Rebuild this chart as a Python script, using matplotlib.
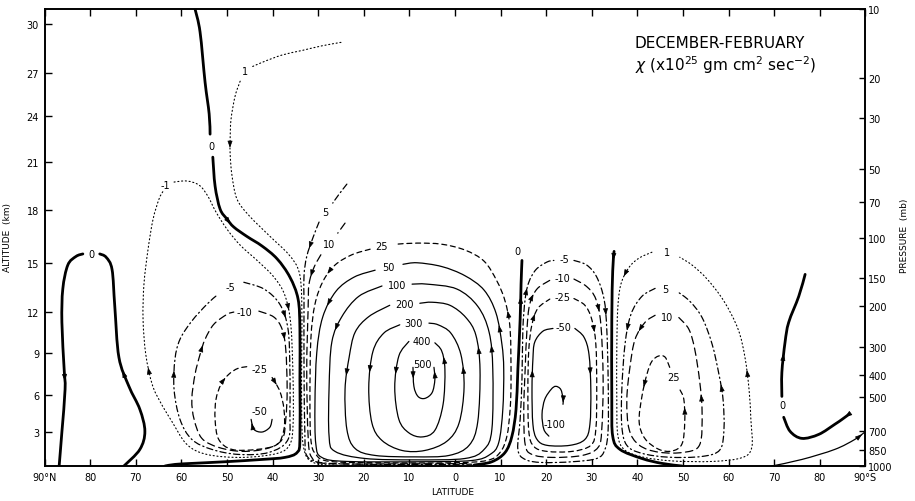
import numpy as np
import matplotlib
matplotlib.use("Agg")
import matplotlib.pyplot as plt
from matplotlib.path import Path
from matplotlib.patches import PathPatch
from matplotlib.ticker import NullLocator

# --- Streamlines: (latitude deg, pressure mb) ---
# latitude is positive north; every path runs in the direction of its arrows

# north polar cell, label "0" splits it in two
ZERO_NPOLE_UP = [(72.6, 1000), (69.1, 846), (68.0, 705), (69.1, 565), (71.5, 448), (73.7, 334),
                 (74.6, 200), (75.2, 138), (76.5, 122), (77.9, 118)]
ZERO_NPOLE_DOWN = [(81.6, 118), (83.1, 121), (84.9, 132), (86.0, 168), (86.2, 235), (85.7, 378),
                   (85.5, 462), (86.2, 710), (86.8, 1000)]

# zero line between Ferrel and Hadley cells (north)
ZERO_NH_TOP = [(57.0, 10), (55.9, 12.6), (54.8, 20.9), (53.9, 28.8), (53.7, 35.3)]
ZERO_NH = [(53.1, 44.5), (52.6, 59.6), (51.5, 75.1), (50.0, 83), (48.5, 90), (45.6, 99), (42.3, 109),
           (39.0, 124), (36.2, 149), (34.4, 186), (34.0, 252), (34.0, 418), (34.0, 765), (34.6, 872),
           (37.3, 917), (42.3, 936), (50.4, 958), (57.7, 974), (61.4, 984), (63.6, 1000)]

# northern Ferrel cell (negative)
NEG1_NH = [(61.6, 57.2), (58.8, 56.6), (56.1, 59.0), (54.2, 65.9), (52.4, 77.4), (50.0, 91.9), (47.1, 108),
           (43.2, 127), (39.7, 149), (37.3, 179), (36.0, 240), (35.5, 418), (35.5, 657), (36.2, 804),
           (39.0, 881), (46.7, 917), (54.4, 890), (58.8, 804), (62.1, 637), (64.7, 521), (66.4, 439),
           (67.8, 325), (68.4, 228), (68.2, 160), (67.3, 112.5), (66.2, 83.1), (64.9, 67.9), (64.0, 62.7)]
NEG5_NH = [(46.3, 157), (41.9, 168), (38.4, 196), (36.6, 252), (36.2, 378), (36.2, 565), (36.6, 765),
           (40.8, 872), (47.4, 890), (53.3, 846), (57.7, 765), (60.3, 625), (61.6, 462), (61.4, 341),
           (60.3, 279), (57.7, 232), (54.4, 196), (52.2, 179)]
NEG10_NH = [(43.0, 210), (39.7, 223), (37.9, 252), (37.1, 309), (36.8, 462), (37.1, 625), (37.9, 765),
            (41.2, 838), (46.7, 863), (51.8, 829), (55.5, 757), (57.2, 625), (57.7, 511), (57.0, 397),
            (55.9, 325), (54.8, 279), (52.9, 240), (50.0, 217), (48.5, 212)]
NEG25_NH = [(40.1, 410), (38.4, 471), (37.5, 565), (37.5, 691), (39.0, 804), (43.4, 846), (48.9, 846),
            (51.8, 765), (52.6, 625), (52.4, 511), (51.3, 439), (49.6, 397), (47.6, 374), (45.4, 367)]
NEG50_NH = [(40.1, 625), (40.6, 677), (42.3, 710), (44.1, 691), (44.7, 625)]

# Hadley cell (positive)
POS1_NH_TOP = [(25.0, 14.0), (29.2, 14.5), (33.6, 15.2), (37.9, 15.9), (41.9, 17.0), (44.5, 17.9)]
POS1_NH = [(47.1, 20.7), (48.2, 24.0), (49.1, 30.3), (49.3, 37.1), (49.3, 43.1), (48.9, 53.5), (47.8, 67.9),
           (45.2, 80), (40.6, 98.7), (36.4, 119), (34.2, 141), (33.6, 186), (33.6, 309), (33.6, 625),
           (33.1, 846), (31.4, 958), (27.0, 990), (16.0, 992), (5.0, 992)]
POS5_NH_TOP = [(23.7, 58.4), (25.4, 64.6), (26.8, 70.7)]
POS5_NH = [(29.8, 85.6), (31.1, 99.7), (32.5, 121), (33.1, 147), (33.1, 192), (33.1, 378), (32.9, 740),
           (32.5, 899), (29.6, 965), (20.4, 982), (7.2, 985), (-3.7, 982)]
POS10_NH_TOP = [(24.1, 86.5), (25.7, 95.7)]
POS10_NH = [(29.4, 119), (30.9, 135), (32.0, 160), (32.2, 206), (32.5, 378), (32.2, 740), (31.4, 917),
            (28.1, 975), (11.6, 978), (-2.6, 976)]
HAD25 = [(18.6, 112.5), (22.6, 119), (26.3, 132), (28.9, 155), (30.7, 196), (31.6, 279), (31.8, 511),
         (31.6, 765), (30.5, 890), (27.4, 955), (16.0, 968), (0.7, 968), (-7.0, 946), (-9.9, 872),
         (-11.4, 740), (-12.1, 565), (-12.3, 418), (-12.1, 252), (-11.0, 190), (-9.2, 155), (-6.4, 127),
         (-2.2, 113.5), (2.9, 107), (8.3, 105.8), (12.9, 107)]
HAD50 = [(17.5, 139), (22.1, 149), (26.1, 172), (29.0, 223), (30.3, 319), (30.7, 537), (30.5, 804),
         (29.2, 917), (23.7, 955), (7.2, 958), (-3.7, 946), (-7.7, 890), (-9.6, 790), (-10.5, 565),
         (-10.7, 378), (-10.3, 293), (-9.0, 214), (-6.4, 170), (-2.2, 147), (2.9, 134), (8.3, 129), (11.4, 131)]
HAD100 = [(16.0, 163), (21.1, 181), (24.8, 222), (27.0, 287), (27.6, 453), (27.6, 740), (26.3, 863),
          (19.7, 927), (8.8, 940), (-2.2, 927), (-6.4, 846), (-8.1, 691), (-8.3, 378), (-7.5, 260),
          (-5.0, 200), (-0.4, 168), (6.1, 160), (9.4, 160)]
HAD200 = [(14.3, 198), (18.9, 222), (21.9, 260), (23.2, 334), (24.1, 462), (23.7, 691), (21.9, 838),
          (17.5, 899), (8.8, 912), (1.3, 899), (-3.1, 812), (-5.0, 641), (-5.5, 378), (-4.6, 268),
          (-2.4, 224), (1.1, 198), (5.0, 192), (7.7, 194)]
HAD300 = [(12.1, 241), (15.6, 262), (18.0, 316), (18.9, 453), (18.2, 649), (16.0, 773), (11.6, 855),
          (6.6, 855), (1.8, 780), (-0.9, 649), (-2.0, 453), (-1.3, 325), (0.9, 262), (3.7, 241), (5.7, 237)]
HAD400 = [(10.1, 285), (12.3, 330), (13.2, 453), (12.3, 625), (10.1, 716), (7.2, 746), (4.4, 698),
          (2.6, 537), (2.2, 378), (2.9, 314), (4.4, 289)]
HAD500 = [(9.2, 370), (9.0, 448), (8.1, 496), (6.6, 506), (5.0, 477), (4.4, 418), (4.6, 370)]

# zero line near the equator
ZERO_EQ = [(-4.2, 990), (-8.1, 958), (-11.0, 872), (-12.5, 740), (-13.4, 565), (-13.8, 378),
           (-14.3, 228), (-14.5, 160), (-14.7, 126)]

# southern cell next to the equator (negative)
NEG5_SH = [(-26.1, 126), (-28.9, 132), (-31.1, 149), (-32.7, 186), (-33.3, 252), (-33.6, 418),
           (-33.6, 691), (-32.9, 846), (-31.1, 927), (-25.7, 958), (-19.1, 965), (-15.4, 936),
           (-13.8, 846), (-14.3, 625), (-14.7, 418), (-14.9, 252), (-15.4, 186), (-16.2, 157),
           (-17.8, 138), (-20.2, 128), (-21.7, 126)]
NEG10_SH = [(-26.1, 152), (-28.9, 164), (-30.9, 186), (-32.0, 240), (-32.5, 418), (-32.2, 691),
            (-31.4, 829), (-27.9, 899), (-21.3, 917), (-16.9, 890), (-15.4, 804), (-15.1, 565),
            (-15.4, 378), (-15.8, 252), (-16.4, 196), (-18.0, 168), (-20.8, 154)]
NEG25_SH = [(-26.1, 185), (-28.5, 198), (-30.0, 228), (-30.9, 293), (-31.1, 462), (-30.9, 691),
            (-29.8, 812), (-25.7, 863), (-20.2, 863), (-17.3, 821), (-16.2, 705), (-16.0, 462),
            (-16.2, 309), (-16.9, 240), (-18.2, 204), (-20.8, 186)]
NEG50_SH = [(-26.3, 250), (-28.3, 273), (-29.4, 325), (-29.8, 462), (-29.6, 657), (-28.5, 765),
            (-25.2, 812), (-20.2, 812), (-18.0, 765), (-17.1, 657), (-16.9, 462), (-17.1, 341),
            (-17.5, 287), (-19.3, 257), (-21.5, 250)]
NEG100_SH = [(-20.6, 740), (-19.5, 691), (-19.1, 594), (-19.7, 511), (-21.1, 462), (-22.1, 448),
             (-23.2, 462), (-23.7, 506), (-23.7, 537)]

ZERO_SH = [(-34.9, 115), (-34.6, 140), (-34.4, 228), (-34.4, 511), (-34.6, 740), (-36.2, 846),
           (-41.0, 927), (-45.4, 974), (-49.8, 1000)]

# southern Ferrel cell (positive)
POS1_SH = [(-43.2, 116), (-40.4, 123), (-38.2, 135), (-36.4, 160), (-35.7, 206), (-35.5, 309),
           (-35.5, 511), (-35.7, 727), (-37.1, 846), (-41.0, 912), (-47.6, 950), (-56.4, 955),
           (-62.9, 920), (-65.1, 829), (-64.9, 625), (-64.5, 462), (-63.6, 334), (-62.1, 252),
           (-59.0, 190), (-55.3, 152), (-52.0, 132), (-49.3, 122)]
POS5_SH = [(-43.9, 167), (-41.0, 181), (-38.6, 217), (-37.3, 293), (-36.6, 462), (-36.6, 670),
           (-37.7, 812), (-41.0, 880), (-46.9, 915), (-54.2, 908), (-58.1, 850), (-59.0, 691),
           (-58.8, 511), (-57.9, 397), (-56.4, 293), (-54.2, 224), (-51.5, 190), (-48.7, 172)]
POS10_SH = [(-43.9, 219), (-41.7, 235), (-39.5, 279), (-38.4, 367), (-37.7, 511), (-38.2, 691),
            (-40.4, 810), (-44.7, 870), (-50.4, 870), (-53.7, 805), (-54.2, 582), (-53.7, 430),
            (-52.6, 309), (-51.3, 252), (-49.1, 224)]
POS25_SH = [(-47.1, 370), (-46.1, 334), (-44.7, 330), (-43.2, 348), (-42.1, 397), (-41.0, 497),
            (-40.4, 641), (-41.7, 760), (-44.7, 845), (-47.6, 860), (-49.8, 800), (-50.4, 641),
            (-50.2, 511), (-49.3, 462)]

# south polar zero line and the thin surface line
ZERO_SPOLE_LOW = [(-86.4, 594), (-84.9, 625), (-83.3, 657), (-79.8, 727), (-76.1, 757), (-73.5, 705),
                  (-72.1, 612)]
ZERO_SPOLE_UP = [(-71.7, 496), (-71.7, 389), (-72.4, 287), (-73.2, 235), (-75.4, 181), (-76.8, 145)]
THIN_SPOLE = [(-69.5, 1000), (-76.1, 936), (-83.3, 846), (-87.7, 765), (-89.9, 710)]

# contour labels: text, latitude, pressure
LABELS = [("0", 79.8, 118), ("0", 53.3, 39.8), ("1", 46.1, 18.7), ("-1", 63.6, 59),
          ("5", 28.5, 77.4), ("10", 27.6, 106.6), ("25", 16.0, 108.8), ("50", 14.5, 134.5),
          ("100", 12.7, 161.6), ("200", 11.0, 195), ("300", 9.0, 237), ("400", 7.2, 283),
          ("500", 7.2, 359), ("-5", 49.3, 165), ("-10", 46.1, 211), ("-25", 42.8, 378),
          ("-50", 42.8, 576), ("0", -13.6, 115), ("-5", -23.9, 124), ("-10", -23.5, 150),
          ("-25", -23.5, 183), ("-50", -23.9, 247), ("-100", -21.9, 657), ("1", -46.5, 116),
          ("5", -46.1, 168), ("10", -46.5, 222), ("25", -48.0, 409), ("0", -71.9, 543)]

# axes
LAT_TICKS = [90, 80, 70, 60, 50, 40, 30, 20, 10, 0, -10, -20, -30, -40, -50, -60, -70, -80, -90]
LAT_LABELS = ["90°N", "80", "70", "60", "50", "40", "30", "20", "10", "0",
              "10", "20", "30", "40", "50", "60", "70", "80", "90°S"]
ALT_KM = [3, 6, 9, 12, 15, 18, 21, 24, 27, 30]
ALT_P = [710, 489, 320, 212, 129, 75.8, 46.7, 29.4, 19.1, 11.6]
PRESSURE_MB = [10, 20, 30, 50, 70, 100, 150, 200, 300, 400, 500, 700, 850, 1000]

STYLES = {
    "zero": dict(lw=2.0, ls="-"),
    "solid": dict(lw=0.9, ls="-"),
    "dot": dict(lw=0.8, ls=(0, (1, 2.4))),
    "dashdot": dict(lw=0.9, ls=(0, (5, 2.5, 1, 2.5))),
    "dash10": dict(lw=0.9, ls=(0, (6, 3.5))),
    "dash25": dict(lw=0.9, ls=(0, (4, 3))),
}

# (path, style, segments that carry an arrowhead)
CONTOURS = [
    (ZERO_NPOLE_UP, "zero", [4]), (ZERO_NPOLE_DOWN, "zero", [5]),
    (ZERO_NH_TOP, "zero", []), (ZERO_NH, "zero", [3]),
    (NEG1_NH, "dot", [9, 20]), (NEG5_NH, "dashdot", [2, 12]),
    (NEG10_NH, "dash10", [2, 14]), (NEG25_NH, "dash25", [0, 10]), (NEG50_NH, "solid", [3]),
    (POS1_NH_TOP, "dot", []), (POS1_NH, "dot", [3]),
    (POS5_NH_TOP, "dashdot", []), (POS5_NH, "dashdot", [1]),
    (POS10_NH_TOP, "dash10", []), (POS10_NH, "dash10", [1]),
    (HAD25, "dash25", [2, 17]), (HAD50, "solid", [2, 15]), (HAD100, "solid", [2, 12]),
    (HAD200, "solid", [3, 12]), (HAD300, "solid", [2, 10]), (HAD400, "solid", [1, 8]),
    (HAD500, "solid", [0, 5]),
    (ZERO_EQ, "zero", [6]),
    (NEG5_SH, "dashdot", [3, 16]), (NEG10_SH, "dash10", [2, 14]), (NEG25_SH, "dash25", [2, 13]),
    (NEG50_SH, "solid", [2, 10]), (NEG100_SH, "solid", [7]),
    (ZERO_SH, "zero", [0]),
    (POS1_SH, "dot", [2, 15]), (POS5_SH, "dashdot", [2, 12]), (POS10_SH, "dash10", [1, 10]),
    (POS25_SH, "dash25", [4, 11]),
    (ZERO_SPOLE_LOW, "zero", [0]), (ZERO_SPOLE_UP, "zero", [1]),
    (THIN_SPOLE, "solid", [3]),
]


def bezier_segments(points):
    """Catmull-Rom control points in (lat, log p) space."""
    pts = np.array([(lat, np.log10(p)) for lat, p in points])
    ext = np.vstack([pts[0], pts, pts[-1]])
    segs = []
    for i in range(len(pts) - 1):
        p0, p1, p2, p3 = ext[i], ext[i + 1], ext[i + 2], ext[i + 3]
        segs.append((p1, p1 + (p2 - p0) / 6.0, p2 - (p3 - p1) / 6.0, p2))
    return segs


def bez(seg, t):
    a, b, c, d = seg
    return (1 - t) ** 3 * a + 3 * (1 - t) ** 2 * t * b + 3 * (1 - t) * t ** 2 * c + t ** 3 * d


def to_data(q):
    return (q[0], 10 ** q[1])


fig = plt.figure(figsize=(9.15, 5.02), dpi=100)
ax = fig.add_axes([0.0487, 0.0697, 0.8970, 0.9104])
ax.set_xlim(90, -90)
ax.set_yscale("log")
ax.set_ylim(1000, 10)

for points, style, arrows in CONTOURS:
    segs = bezier_segments(points)
    verts = [to_data(segs[0][0])]
    codes = [Path.MOVETO]
    for s in segs:
        verts += [to_data(s[1]), to_data(s[2]), to_data(s[3])]
        codes += [Path.CURVE4] * 3
    st = STYLES[style]
    ax.add_patch(PathPatch(Path(verts, codes), fill=False, edgecolor="black",
                           lw=st["lw"], linestyle=st["ls"], capstyle="round", clip_on=True))
    for k in arrows:
        tail = to_data(bez(segs[k], 0.42))
        head = to_data(bez(segs[k], 0.60))
        ax.annotate("", xy=head, xytext=tail,
                    arrowprops=dict(arrowstyle="-|>,head_length=0.55,head_width=0.2",
                                    color="black", lw=0.5, shrinkA=0, shrinkB=0,
                                    mutation_scale=7.5))

for text, lat, p in LABELS:
    ax.text(lat, p, text, ha="center", va="center", fontsize=7)

# bottom / top latitude axis
ax.set_xticks(LAT_TICKS)
ax.set_xticklabels(LAT_LABELS)
ax.tick_params(axis="x", direction="in", top=True, bottom=True, length=5, width=1,
               labelsize=7, pad=4)

# left altitude axis
ax.set_yticks(ALT_P)
ax.set_yticklabels([str(k) for k in ALT_KM])
ax.yaxis.set_minor_locator(NullLocator())
ax.tick_params(axis="y", direction="in", length=5, width=1, labelsize=7, pad=4)

# right pressure axis
ax2 = ax.twinx()
ax2.set_yscale("log")
ax2.set_ylim(1000, 10)
ax2.set_yticks(PRESSURE_MB)
ax2.set_yticklabels([str(p) for p in PRESSURE_MB])
ax2.yaxis.set_minor_locator(NullLocator())
ax2.tick_params(axis="y", direction="in", length=4, width=1, labelsize=7, pad=2)

for a in (ax, ax2):
    for sp in a.spines.values():
        sp.set_linewidth(1.2)

fig.text(8 / 915, 1 - 238 / 502, "ALTITUDE  (km)", rotation=90, ha="center", va="center", fontsize=6.5)
fig.text(905 / 915, 1 - 236 / 502, "PRESSURE  (mb)", rotation=90, ha="center", va="center", fontsize=6.5)
fig.text(453 / 915, 1 - 493 / 502, "LATITUDE", ha="center", va="center", fontsize=6.5)

fig.text(635 / 915, 1 - 43 / 502, "DECEMBER-FEBRUARY", ha="left", va="center", fontsize=11)
fig.text(635 / 915, 1 - 65 / 502, r"$\chi$ (x10$^{25}$ gm cm$^{2}$ sec$^{-2}$)",
         ha="left", va="center", fontsize=11)

fig.savefig("out.png", dpi=100, facecolor="white")
